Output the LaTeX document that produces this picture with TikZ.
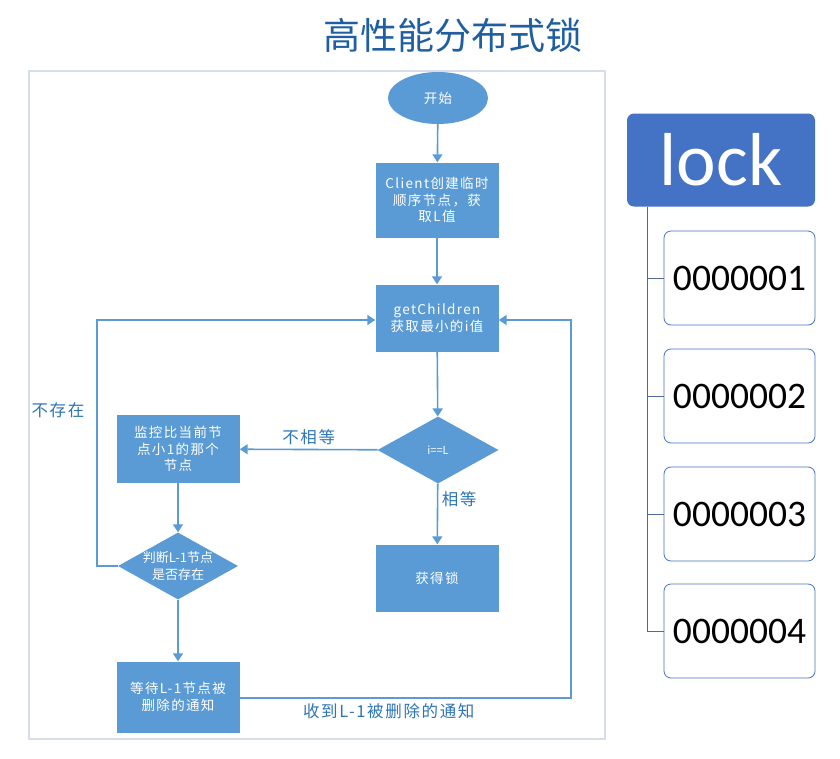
\documentclass[tikz,border=0pt]{standalone}
\usepackage{fontspec}
\setmainfont{Carlito}
\newfontfamily\cjk[LetterSpace=10]{Noto Sans CJK SC}
\newfontfamily\cjktitle{Noto Sans CJK SC}
\usetikzlibrary{shapes.geometric,arrows.meta}

\definecolor{flowblue}{HTML}{5B9BD5}
\definecolor{labelblue}{HTML}{2E75B6}
\definecolor{titleblue}{HTML}{1F5FA0}
\definecolor{lockblue}{HTML}{4472C4}
\definecolor{treeline}{HTML}{4A6AA0}
\definecolor{framegray}{HTML}{D5DEE8}

\tikzset{
  flowbox/.style={rectangle, fill=flowblue, text=white, align=center,
    minimum width=123pt, inner sep=2pt, font=\cjk\fontsize{13.5}{16.5}\selectfont},
  flowstart/.style={ellipse, fill=flowblue, text=white, minimum width=100pt,
    minimum height=52pt, inner sep=0pt, font=\cjk\fontsize{13.5}{16.5}\selectfont},
  flowdec/.style={diamond, fill=flowblue, text=white, inner sep=0pt,
    minimum width=121pt, minimum height=67pt},
  flowtext/.style={text=white, align=center, font=\cjktitle\fontsize{13}{17}\selectfont},
  flowarrow/.style={draw=flowblue, line width=1.6pt, -{Triangle[length=8pt,width=10pt]}},
  flowlabel/.style={text=labelblue, font=\cjk\fontsize{16.5}{18}\selectfont},
  lockroot/.style={rectangle, rounded corners=7pt, fill=lockblue, text=white,
    minimum width=188pt, minimum height=93pt, font=\fontsize{75}{80}\selectfont},
  lockchild/.style={rectangle, rounded corners=7pt, draw=lockblue, line width=0.8pt,
    fill=white, minimum width=151pt, minimum height=94pt, font=\fontsize{37.5}{42}\selectfont},
}

\begin{document}
\begin{tikzpicture}[x=1pt,y=-1pt]
\useasboundingbox[fill=white] (0,0) rectangle (840,758);

% 标题
\node[text=titleblue, font=\cjktitle\fontsize{37}{42}\selectfont] (title) at (453,35) {高性能分布式锁};

% 外框
\draw[framegray, line width=1.2pt] (29,71) rectangle (605,739);

% 流程图
\node[flowstart] (start) at (438,98) {开始};
\node[flowbox, minimum height=75pt] (create) at (437,200) {Client创建临时\\顺序节点，获\\取L值};
\node[flowbox, minimum height=67pt] (children) at (437,318) {getChildren\\获取最小的i值};
\node[flowdec] (cmp) at (438,450) {};
\node[flowtext, font=\cjktitle\fontsize{11}{13}\selectfont] (cmptext) at (cmp.center) {i==L};
\node[flowbox, minimum height=68pt] (watch) at (178,449) {监控比当前节\\点小1的那个\\节点};
\node[flowbox, minimum height=67pt] (getlock) at (437,578) {获得锁};
\node[flowdec, minimum width=120pt] (exist) at (178,566) {};
\node[flowtext] (existtext) at (exist.center) {判断L-1节点\\是否存在};
\node[flowbox, minimum height=71pt] (wait) at (178,697) {等待L-1节点被\\删除的通知};

\coordinate (loopL1) at (97,566);
\coordinate (loopL2) at (97,320);
\coordinate (loopR1) at (571,698);
\coordinate (loopR2) at (571,320);

\draw[flowarrow] (start) -- (create);
\draw[flowarrow] (create) -- (children);
\draw[flowarrow] (children) -- (cmp);
\draw[flowarrow] (cmp) -- node[flowlabel, above, yshift=1pt] {不相等} (watch);
\draw[flowarrow] (cmp) -- node[flowlabel, right, pos=0.25] {相等} (getlock);
\draw[flowarrow] (watch) -- (exist);
\draw[flowarrow] (exist) -- (wait);
\draw[flowarrow] (exist.west) -- (loopL1) -- (loopL2) -- (children.west |- loopL2);
\draw[flowarrow] (wait.east |- loopR1) -- node[flowlabel, below, pos=0.45, yshift=-1pt] {收到L-1被删除的通知} (loopR1) -- (loopR2) -- (children.east |- loopR2);
\node[flowlabel] (absent) at (58,410) {不存在};

% 右侧节点树
\node[lockroot] (lock) at (721,160) {lock};
\coordinate (trunk) at (647,206);
\foreach \i/\y in {1/278, 2/396, 3/514, 4/631} {
  \node[lockchild] (child\i) at (739.5,\y) {000000\i};
  \draw[treeline, line width=0.9pt] (trunk |- child\i.west) -- (child\i.west);
}
\draw[treeline, line width=0.9pt] (lock.south -| trunk) -- (trunk |- child4.west);

\end{tikzpicture}
\end{document}
